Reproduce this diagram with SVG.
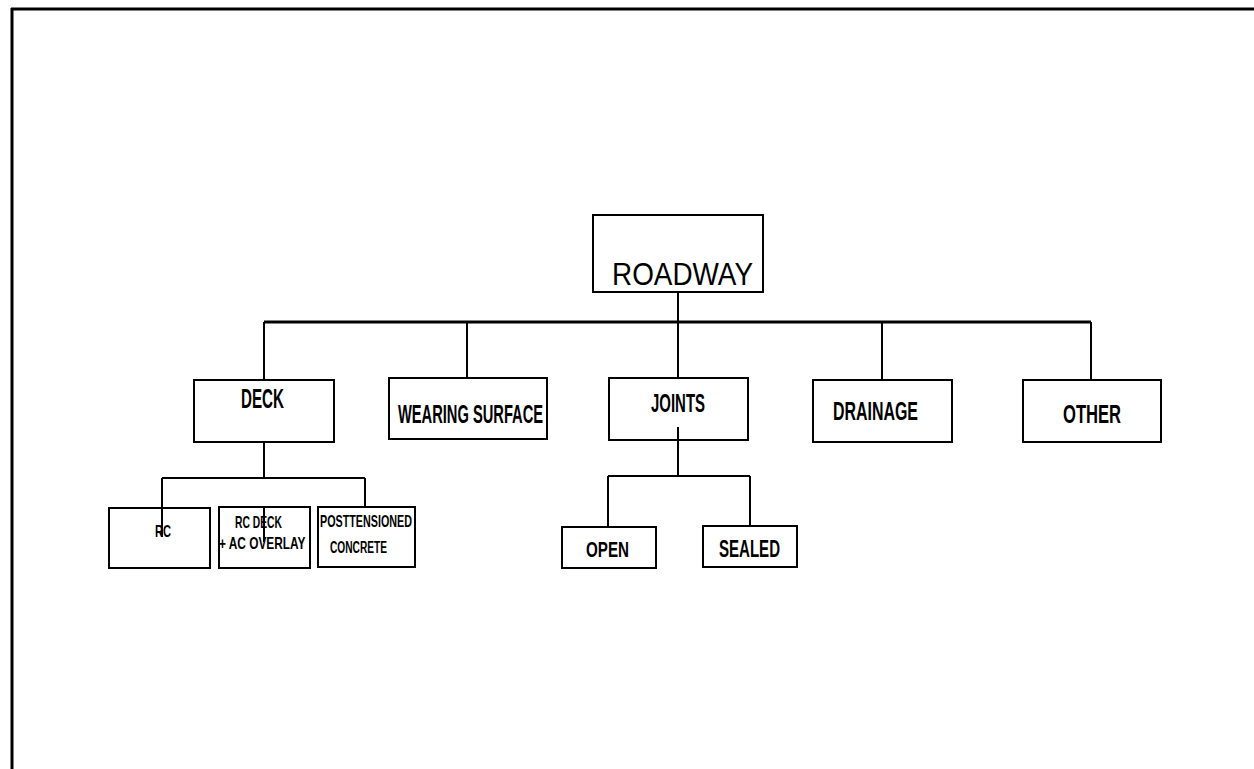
<svg xmlns="http://www.w3.org/2000/svg" width="1254" height="769" viewBox="0 0 1254 769">
<style>
.box{fill:#fff;stroke:#000;stroke-width:2}
.ln{fill:none;stroke:#000;stroke-width:2}
.main{fill:none;stroke:#000;stroke-width:3}
text{font-family:"Liberation Sans",Arial,sans-serif;fill:#000}
.b{font-weight:bold}
</style>
<rect width="1254" height="769" fill="#fff"/>
<g id="frame">
<line x1="11" y1="9" x2="1254" y2="9" class="main"/>
<line x1="12" y1="8" x2="12" y2="769" class="main"/>
</g>
<g id="connectors">
<line x1="678" y1="292" x2="678" y2="378" class="ln"/>
<line x1="264" y1="322" x2="1091" y2="322" class="main"/>
<line x1="264" y1="322" x2="264" y2="380" class="ln"/>
<line x1="467" y1="322" x2="467" y2="378" class="ln"/>
<line x1="882" y1="322" x2="882" y2="380" class="ln"/>
<line x1="1091" y1="322" x2="1091" y2="380" class="ln"/>
<line x1="264" y1="442" x2="264" y2="478" class="ln"/>
<line x1="162" y1="478" x2="365" y2="478" class="ln"/>
<line x1="162" y1="478" x2="162" y2="508" class="ln"/>
<line x1="365" y1="478" x2="365" y2="507" class="ln"/>
<line x1="678" y1="440" x2="678" y2="476" class="ln"/>
<line x1="608" y1="476" x2="750" y2="476" class="ln"/>
<line x1="608" y1="476" x2="608" y2="527" class="ln"/>
<line x1="750" y1="476" x2="750" y2="526" class="ln"/>
</g>
<g id="roadway">
<rect x="593" y="215" width="170" height="77" class="box"/>
<text x="612" y="285" font-size="32" textLength="141" lengthAdjust="spacingAndGlyphs">ROADWAY</text>
</g>
<g id="deck">
<rect x="194" y="380" width="140" height="62" class="box"/>
<text x="241" y="408" font-size="27" class="b" textLength="43" lengthAdjust="spacingAndGlyphs">DECK</text>
</g>
<g id="wearing-surface">
<rect x="389" y="378" width="158" height="61" class="box"/>
<text x="398" y="423" font-size="25" class="b" textLength="145" lengthAdjust="spacingAndGlyphs">WEARING SURFACE</text>
</g>
<g id="joints">
<rect x="609" y="378" width="139" height="62" class="box"/>
<text x="651" y="412" font-size="25" class="b" textLength="54" lengthAdjust="spacingAndGlyphs">JOINTS</text>
<line x1="678" y1="427" x2="678" y2="440" class="ln"/>
</g>
<g id="drainage">
<rect x="813" y="380" width="139" height="62" class="box"/>
<text x="833" y="420" font-size="26" class="b" textLength="85" lengthAdjust="spacingAndGlyphs">DRAINAGE</text>
</g>
<g id="other">
<rect x="1023" y="380" width="138" height="62" class="box"/>
<text x="1063" y="423" font-size="26" class="b" textLength="58" lengthAdjust="spacingAndGlyphs">OTHER</text>
</g>
<g id="rc">
<rect x="109" y="508" width="101" height="60" class="box"/>
<line x1="162" y1="508" x2="162" y2="537" class="ln"/>
<text x="155" y="537" font-size="17" class="b" textLength="16" lengthAdjust="spacingAndGlyphs">RC</text>
</g>
<g id="rc-deck-ac-overlay">
<rect x="219" y="507" width="91" height="61" class="box"/>
<line x1="264" y1="507" x2="264" y2="542" class="ln"/>
<text x="235" y="528" font-size="17" class="b" textLength="47" lengthAdjust="spacingAndGlyphs">RC DECK</text>
<text transform="translate(219,549) scale(0.698,1)" x="0" y="0" font-size="17" class="b">+ AC OVERLAY</text>
</g>
<g id="posttensioned-concrete">
<rect x="318" y="507" width="97" height="60" class="box"/>
<text transform="translate(320,527) scale(0.672,1)" x="0" y="0" font-size="16" class="b">POSTTENSIONED</text>
<text x="330" y="553" font-size="16" class="b" textLength="57" lengthAdjust="spacingAndGlyphs">CONCRETE</text>
</g>
<g id="open">
<rect x="562" y="527" width="94" height="41" class="box"/>
<text x="586" y="557" font-size="22" class="b" textLength="43" lengthAdjust="spacingAndGlyphs">OPEN</text>
</g>
<g id="sealed">
<rect x="703" y="526" width="94" height="41" class="box"/>
<text x="719" y="557" font-size="24" class="b" textLength="61" lengthAdjust="spacingAndGlyphs">SEALED</text>
</g>
</svg>
